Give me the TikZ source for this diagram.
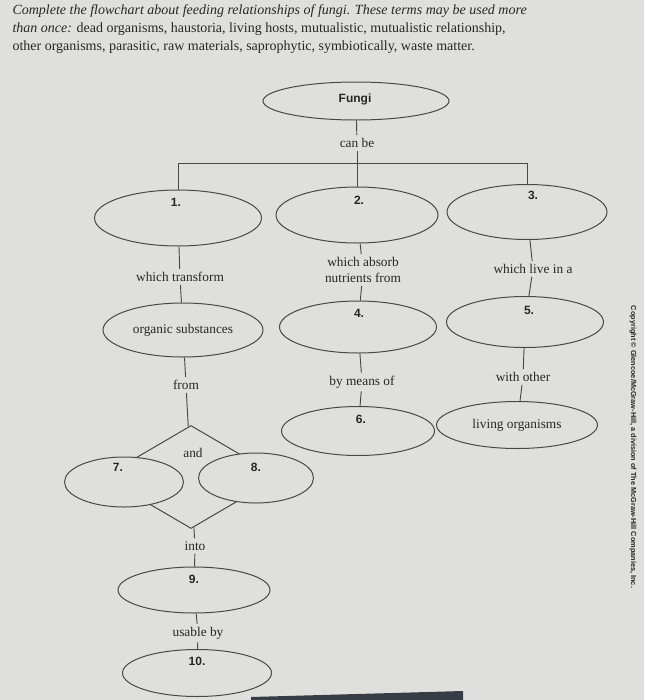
\documentclass[tikz,border=0pt]{standalone}
\usepackage{fontspec}
\setmainfont{Liberation Serif}
\newfontfamily\labelfont{Liberation Sans}
\usetikzlibrary{shapes.geometric}

\definecolor{paper}{RGB}{223,224,221}
\definecolor{inkline}{RGB}{72,72,72}
\definecolor{inktext}{RGB}{38,38,38}
\definecolor{deskbar}{RGB}{55,60,70}

\tikzset{every picture/.style={line width=0.75pt}}
\tikzset{
	bubble/.style 2 args={draw=inkline, fill=paper, ellipse, inner sep=0pt, minimum width=#1*0.75pt, minimum height=#2*0.75pt, font=\fontsize{10}{12}\selectfont, text=inktext},
	numtag/.style={font=\labelfont\bfseries\fontsize{9}{10}\selectfont, text=inktext, inner sep=0pt},
	linkword/.style={font=\fontsize{10}{12}\selectfont, text=inktext, inner sep=2pt, align=center},
	linkline/.style={draw=inkline, line width=0.7pt}}

\begin{document}
\begin{tikzpicture}[x=0.75pt,y=0.75pt,yscale=-1,xscale=1]
	\useasboundingbox (0,0) rectangle (644,700);
	\fill[paper] (0,0) rectangle (644,700);
	%edge of the screen
	\fill[deskbar] (251,700) -- (251,697) -- (463,691) -- (463,700) -- cycle;

	% Text Node
	\node[anchor=base west, inner sep=0pt, text=inktext, font=\fontsize{10.5}{13}\selectfont\itshape] (task1) at (12,14) {Complete the flowchart about feeding relationships of fungi. These terms may be used more};
	% Text Node
	\node[anchor=base west, inner sep=0pt, text=inktext, font=\fontsize{10.5}{13}\selectfont] (task2) at (12,32) {\textit{than once:} dead organisms, haustoria, living hosts, mutualistic, mutualistic relationship,};
	% Text Node
	\node[anchor=base west, inner sep=0pt, text=inktext, font=\fontsize{10.5}{13}\selectfont] (task3) at (12,50) {other organisms, parasitic, raw materials, saprophytic, symbiotically, waste matter.};

	%Shape: Ellipse
	\node[bubble={186}{38}] (fungi) at (356,101) {};
	\node[numtag] (tfungi) at (355,99) {Fungi};
	\node[linkword] (canbe) at (357,143) {can be};
	\coordinate (bar) at (357,163);

	%Shape: Ellipse
	\node[bubble={167}{56}] (e1) at (178,218) {};
	\node[bubble={162}{56}] (e2) at (357,215) {};
	\node[bubble={160}{55}] (e3) at (527,212) {};
	\node[numtag] (t1) at (176,202) {1.};
	\node[numtag] (t2) at (359,200) {2.};
	\node[numtag] (t3) at (533,195) {3.};

	% Text Node
	\node[linkword] (transform) at (180,277) {which transform};
	\node[linkword, font=\fontsize{10}{12}\selectfont] (absorb) at (363,270) {which absorb\\nutrients from};
	\node[linkword] (livein) at (533,269) {which live in a};

	%Shape: Ellipse
	\node[bubble={160}{54}] (organic) at (183,330) {organic substances};
	\node[bubble={157}{52}] (e4) at (358,327) {};
	\node[bubble={157}{51}] (e5) at (525,322) {};
	\node[numtag] (t4) at (359,313) {4.};
	\node[numtag] (t5) at (529,310) {5.};

	% Text Node
	\node[linkword] (from) at (186,385) {from};
	\node[linkword] (means) at (362,382) {by means of};
	\node[linkword] (withother) at (523,377) {with other};

	%Shape: Ellipse
	\node[bubble={153}{49}] (e6) at (358,431) {};
	\node[bubble={161}{47}] (living) at (517,425) {living organisms};
	\node[numtag] (t6) at (361,419) {6.};

	%Shape: Diamond
	\node[draw=inkline, diamond, inner sep=0pt, minimum width=176*0.75pt, minimum height=103*0.75pt] (dia) at (191,477) {};
	\node[linkword] (and) at (193,453) {and};
	\node[bubble={119}{50}] (e7) at (124,482) {};
	\node[bubble={115}{50}] (e8) at (256,478) {};
	\node[numtag] (t7) at (118,467) {7.};
	\node[numtag] (t8) at (256,467) {8.};

	% Text Node
	\node[linkword] (into) at (195,546) {into};
	\node[bubble={152}{46}] (e9) at (194,590) {};
	\node[numtag] (t9) at (194,579) {9.};
	\node[linkword] (usable) at (198,633) {usable by};
	\node[bubble={149}{47}] (e10) at (197,673) {};
	\node[numtag] (t10) at (197,661) {10.};

	%Straight Lines
	\draw[linkline] (fungi) -- (canbe);
	\draw[linkline] (canbe) -- (e2);
	\draw[linkline] (e1) -- (e1 |- bar) -- (e3 |- bar) -- (e3);
	\draw[linkline] (e1) -- (transform);
	\draw[linkline] (transform) -- (organic);
	\draw[linkline] (organic) -- (from);
	\draw[linkline] (from) -- (dia);
	\draw[linkline] (dia) -- (into);
	\draw[linkline] (into) -- (e9);
	\draw[linkline] (e9) -- (usable);
	\draw[linkline] (usable) -- (e10);
	\draw[linkline] (e2) -- (absorb);
	\draw[linkline] (absorb) -- (e4);
	\draw[linkline] (e4) -- (means);
	\draw[linkline] (means) -- (e6);
	\draw[linkline] (e3) -- (livein);
	\draw[linkline] (livein) -- (e5);
	\draw[linkline] (e5) -- (withother);
	\draw[linkline] (withother) -- (living);

	% Text Node
	\node[rotate=-90, inner sep=0pt, text=inktext, font=\labelfont\bfseries\fontsize{5.5}{6.5}\selectfont] (credit) at (633,447) {Copyright \textcopyright{} Glencoe/McGraw-Hill, a division of The McGraw-Hill Companies, Inc.};

\end{tikzpicture}
\end{document}
